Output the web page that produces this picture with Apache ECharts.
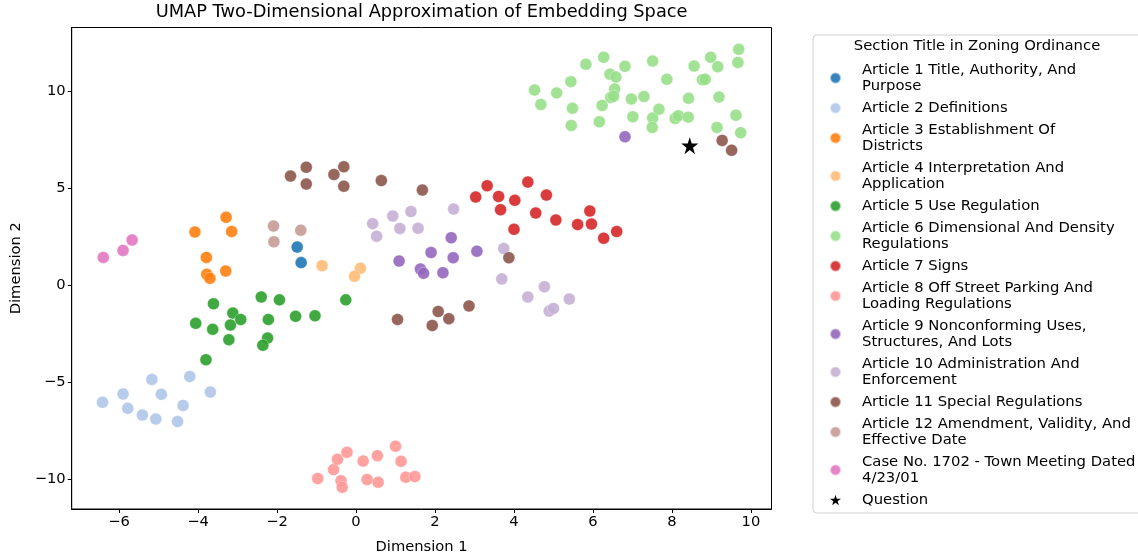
<!DOCTYPE html>
<html>
<head>
<meta charset="utf-8">
<script src="https://cdn.jsdelivr.net/npm/echarts@6/dist/echarts.min.js"></script>
<style>html,body{margin:0;padding:0;background:#fff}#c{width:1138px;height:560px}</style>
</head>
<body>
<div id="c"></div>
<script>
// ---- data ----
const seriesNames = [
  "Article 1 Title, Authority, And Purpose",
  "Article 2 Definitions",
  "Article 3 Establishment Of Districts",
  "Article 4 Interpretation And Application",
  "Article 5 Use Regulation",
  "Article 6 Dimensional And Density Regulations",
  "Article 7 Signs",
  "Article 8 Off Street Parking And Loading Regulations",
  "Article 9 Nonconforming Uses, Structures, And Lots",
  "Article 10 Administration And Enforcement",
  "Article 11 Special Regulations",
  "Article 12 Amendment, Validity, And Effective Date",
  "Case No. 1702 - Town Meeting Dated 4/23/01",
  "Question"
];
const legendLabels = [
  "Article 1 Title, Authority, And\nPurpose",
  "Article 2 Definitions",
  "Article 3 Establishment Of\nDistricts",
  "Article 4 Interpretation And\nApplication",
  "Article 5 Use Regulation",
  "Article 6 Dimensional And Density\nRegulations",
  "Article 7 Signs",
  "Article 8 Off Street Parking And\nLoading Regulations",
  "Article 9 Nonconforming Uses,\nStructures, And Lots",
  "Article 10 Administration And\nEnforcement",
  "Article 11 Special Regulations",
  "Article 12 Amendment, Validity, And\nEffective Date",
  "Case No. 1702 - Town Meeting Dated\n4/23/01",
  "Question"
];
const colors = ["#1f77b4","#aec7e8","#ff7f0e","#ffbb78","#2ca02c","#98df8a","#d62728","#ff9896","#9467bd","#c5b0d5","#8c564b","#c49c94","#e377c2","#000000"];

const art1 = [[-1.49,1.95],[-1.39,1.15]];
const art2 = [[-6.42,-6.05],[-5.90,-5.62],[-5.78,-6.36],[-5.41,-6.70],[-5.17,-4.87],[-5.07,-6.91],[-4.93,-5.64],[-4.52,-7.04],[-4.38,-6.21],[-4.21,-4.72],[-3.69,-5.52]];
const art3 = [[-4.08,2.73],[-3.29,3.49],[-3.15,2.75],[-3.79,1.42],[-3.78,0.55],[-3.70,0.34],[-3.30,0.72]];
const art4 = [[-0.86,0.99],[0.11,0.86],[-0.04,0.45]];
const art5 = [[-3.61,-0.97],[-4.06,-1.98],[-3.63,-2.29],[-3.12,-1.45],[-3.18,-2.07],[-2.92,-1.78],[-3.22,-2.82],[-3.80,-3.86],[-2.40,-0.62],[-1.94,-0.77],[-2.22,-1.78],[-2.24,-2.74],[-2.36,-3.11],[-1.53,-1.62],[-1.04,-1.59],[-0.26,-0.77]];
const art6 = [[4.52,10.05],[4.68,9.30],[5.08,9.90],[5.44,10.48],[5.48,9.11],[5.45,8.22],[5.82,11.38],[6.27,11.74],[6.16,8.41],[6.23,9.25],[6.43,10.86],[6.58,10.72],[6.55,10.10],[6.45,9.66],[6.52,9.73],[6.81,11.27],[6.97,9.59],[7.01,8.67],[7.29,9.71],[7.51,11.54],[7.51,8.60],[7.50,8.12],[7.67,9.06],[7.87,10.60],[8.08,8.58],[8.16,8.72],[8.41,8.65],[8.42,9.62],[8.56,11.28],[8.77,10.58],[8.84,10.60],[8.98,11.74],[9.16,11.25],[9.19,9.69],[9.14,8.12],[9.62,8.75],[9.67,11.47],[9.69,12.15],[9.74,7.85]];
const art7 = [[3.03,4.53],[3.32,5.11],[3.61,4.56],[3.66,3.88],[4.02,4.36],[4.00,2.87],[4.35,5.30],[4.55,3.71],[4.82,4.63],[5.06,3.35],[5.61,3.11],[5.92,3.81],[5.96,3.14],[6.27,2.41],[6.60,2.75]];
const art8 = [[-0.97,-9.98],[-0.57,-9.52],[-0.47,-8.99],[-0.23,-8.63],[-0.38,-10.09],[-0.35,-10.43],[0.18,-9.08],[0.28,-10.03],[0.54,-8.80],[0.56,-10.17],[1.00,-8.31],[1.14,-9.09],[1.26,-9.91],[1.49,-9.88]];
const art9 = [[1.09,1.23],[1.90,1.67],[1.63,0.82],[1.71,0.60],[2.20,0.63],[2.41,2.43],[2.46,1.40],[3.06,1.74],[6.81,7.64]];
const art10 = [[0.42,3.16],[0.52,2.51],[0.93,3.55],[1.11,2.91],[1.39,3.78],[1.57,2.92],[2.47,3.91],[3.74,1.88],[3.69,0.31],[4.35,-0.62],[4.77,-0.09],[5.40,-0.73],[4.89,-1.35],[5.00,-1.21]];
const art11 = [[-1.66,5.61],[-1.26,6.07],[-1.26,5.20],[-0.56,5.69],[-0.31,6.09],[-0.31,5.09],[0.64,5.38],[1.68,4.89],[1.05,-1.78],[1.93,-2.09],[2.08,-1.37],[2.35,-1.74],[2.86,-1.08],[3.87,1.40],[9.27,7.45],[9.51,6.94]];
const art12 = [[-2.09,3.04],[-2.08,2.22],[-1.40,2.82]];
const caseDoc = [[-6.40,1.42],[-5.90,1.78],[-5.67,2.32]];
const question = [[8.45,7.18]];

const xTicks = [-6,-4,-2,0,2,4,6,8,10];
const yTicks = [-10,-5,0,5,10];

// ---- chart ----
const allData = [art1,art2,art3,art4,art5,art6,art7,art8,art9,art10,art11,art12,caseDoc,question];
const starPath = 'path://M50,0 L61.2,34.5 L97.6,34.5 L68.2,55.9 L79.4,90.5 L50,69.1 L20.6,90.5 L31.8,55.9 L2.4,34.5 L38.8,34.5 Z';
const FONT = 'DejaVu Sans';
const FS = 14.7;
const minus = v => String(v).replace('-', '\u2212');

const series = allData.map((d, i) => {
  const isQ = i === allData.length - 1;
  return {
    name: seriesNames[i],
    type: 'scatter',
    data: d,
    symbol: isQ ? starPath : 'circle',
    symbolSize: isQ ? 17 : 12,
    itemStyle: { color: colors[i], opacity: isQ ? 1 : 0.9, borderColor: isQ ? 'none' : 'rgba(255,255,255,0.6)', borderWidth: isQ ? 0 : 0.6 },
    emphasis: { disabled: true },
    z: isQ ? 5 : 2
  };
});

const chart = echarts.init(document.getElementById('c'), null, { renderer: 'canvas' });
chart.setOption({
  animation: false,
  backgroundColor: '#fff',
  textStyle: { fontFamily: FONT },
  grid: { left: 71.7, right: 366.5, top: 27.5, bottom: 48.5, show: true, borderColor: '#000', borderWidth: 1, containLabel: false },
  xAxis: {
    type: 'value', min: -7.2, max: 10.52,
    name: 'Dimension 1', nameLocation: 'middle', nameGap: 31,
    nameTextStyle: { fontFamily: FONT, fontSize: FS, color: '#000' },
    splitLine: { show: false },
    axisLine: { show: true, onZero: false, lineStyle: { color: '#000', width: 1 } },
    axisTick: { show: true, inside: false, length: 4, lineStyle: { color: '#000' }, customValues: xTicks },
    axisLabel: { customValues: xTicks, formatter: minus, fontFamily: FONT, fontSize: FS, color: '#000', margin: 6 }
  },
  yAxis: {
    type: 'value', min: -11.55, max: 13.27,
    name: 'Dimension 2', nameLocation: 'middle', nameGap: 47, nameRotate: 90,
    nameTextStyle: { fontFamily: FONT, fontSize: FS, color: '#000' },
    splitLine: { show: false },
    axisLine: { show: true, onZero: false, lineStyle: { color: '#000', width: 1 } },
    axisTick: { show: true, inside: false, length: 4, lineStyle: { color: '#000' }, customValues: yTicks },
    axisLabel: { customValues: yTicks, formatter: minus, fontFamily: FONT, fontSize: FS, color: '#000', margin: 6 }
  },
  legend: {
    orient: 'vertical', left: 813, top: 35,
    padding: [27, 10, 5, 16],
    itemGap: 6, itemWidth: 11, itemHeight: 11,
    backgroundColor: '#fff', borderColor: '#d0d0d0', borderWidth: 1, borderRadius: 4,
    selectedMode: false,
    data: seriesNames.map((n, i) => ({ name: n, icon: i === seriesNames.length - 1 ? starPath : 'circle' })),
    formatter: n => legendLabels[seriesNames.indexOf(n)],
    textStyle: { fontFamily: FONT, fontSize: 14.8, color: '#000', lineHeight: 16, padding: [0, 0, 0, 16] }
  },
  graphic: [
    { type: 'text', x: 977, y: 12.5, z: 100, style: { text: '', fill: '#000' }, invisible: true },
    { type: 'text', x: 421.6, y: 12.5, z: 100, style: { text: 'UMAP Two-Dimensional Approximation of Embedding Space', fontFamily: FONT, fontSize: 17.8, fill: '#000', align: 'center', verticalAlign: 'middle' } },
    { type: 'text', x: 977, y: 46.5, z: 100, style: { text: 'Section Title in Zoning Ordinance', fontFamily: FONT, fontSize: 14.8, fill: '#000', align: 'center', verticalAlign: 'middle' } }
  ],
  series: series
});
</script>
</body>
</html>
